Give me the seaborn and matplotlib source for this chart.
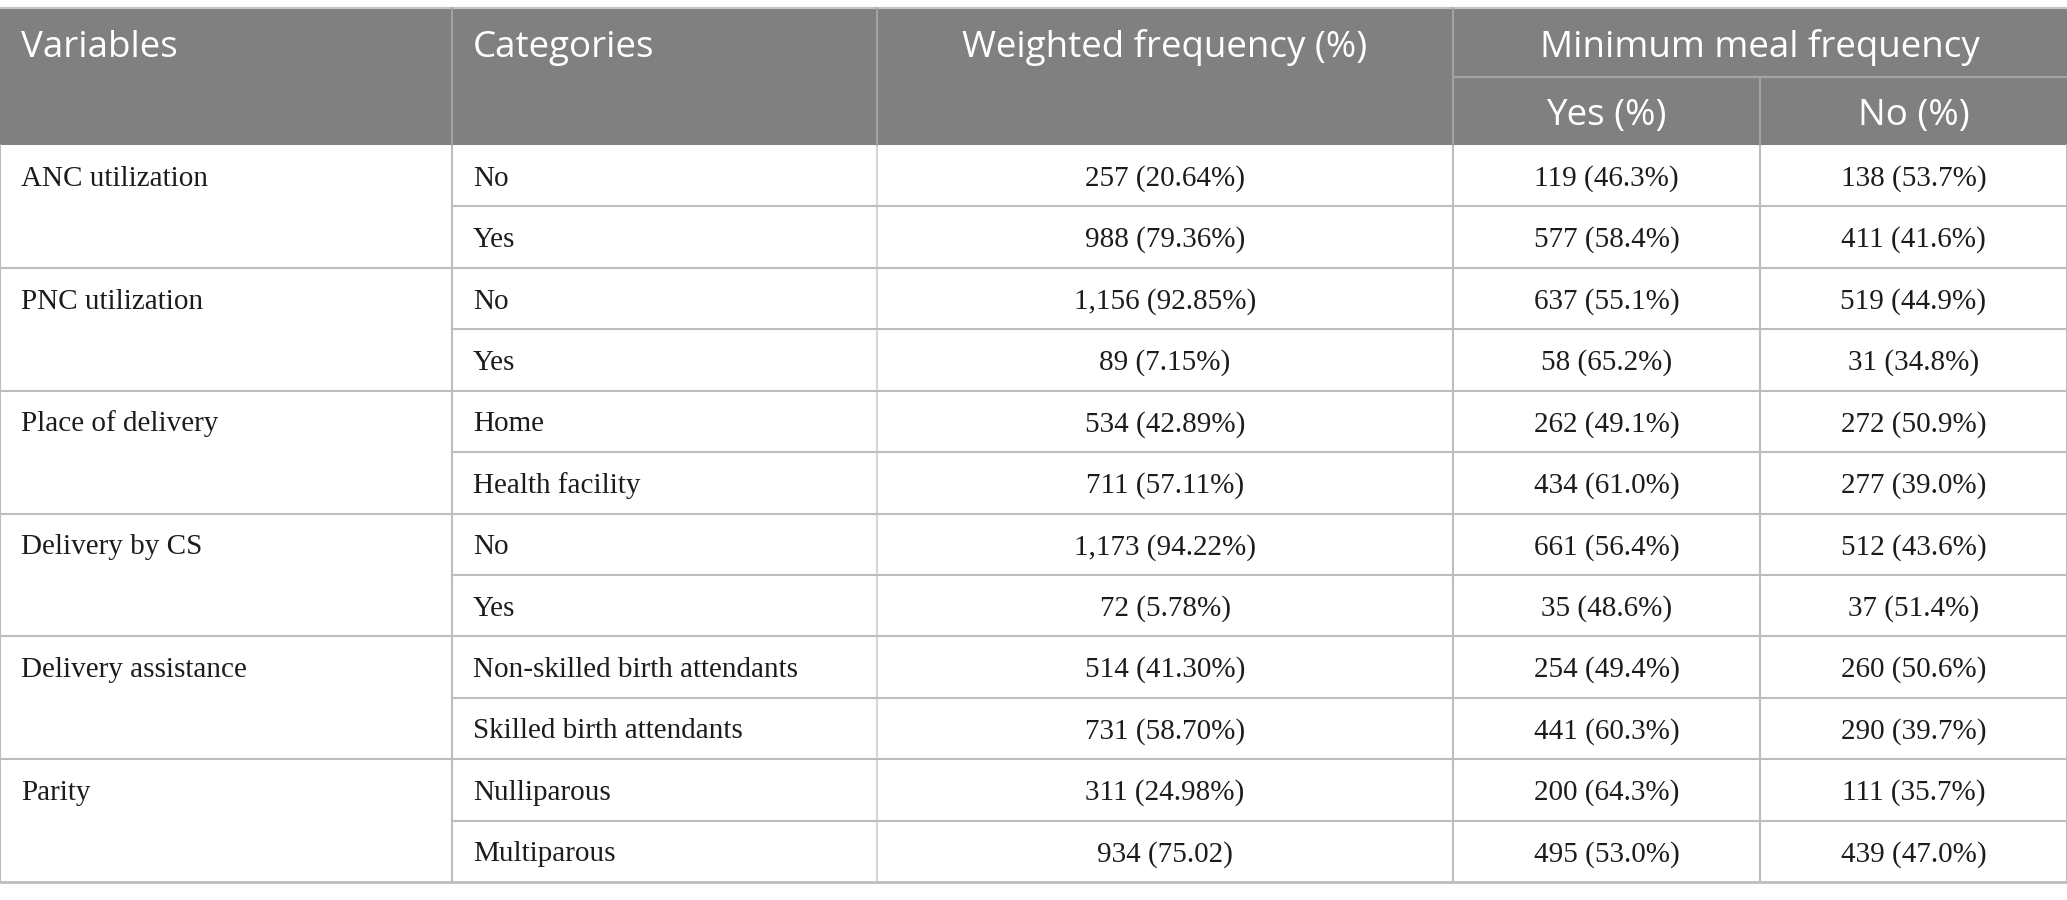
import matplotlib
matplotlib.use("Agg")
import matplotlib.pyplot as plt
import seaborn as sns

# ---------------- data ----------------
header_cols = ["Variables", "Categories", "Weighted frequency (%)"]
header_group = "Minimum meal frequency"
header_sub = ["Yes (%)", "No (%)"]

variables = ["ANC utilization", "PNC utilization", "Place of delivery",
             "Delivery by CS", "Delivery assistance", "Parity"]
categories = [["No", "Yes"], ["No", "Yes"], ["Home", "Health facility"],
              ["No", "Yes"],
              ["Non-skilled birth attendants", "Skilled birth attendants"],
              ["Nulliparous", "Multiparous"]]
weighted = ["257 (20.64%)", "988 (79.36%)", "1,156 (92.85%)", "89 (7.15%)",
            "534 (42.89%)", "711 (57.11%)", "1,173 (94.22%)", "72 (5.78%)",
            "514 (41.30%)", "731 (58.70%)", "311 (24.98%)", "934 (75.02)"]
mmf_yes = ["119 (46.3%)", "577 (58.4%)", "637 (55.1%)", "58 (65.2%)",
           "262 (49.1%)", "434 (61.0%)", "661 (56.4%)", "35 (48.6%)",
           "254 (49.4%)", "441 (60.3%)", "200 (64.3%)", "495 (53.0%)"]
mmf_no = ["138 (53.7%)", "411 (41.6%)", "519 (44.9%)", "31 (34.8%)",
          "272 (50.9%)", "277 (39.0%)", "512 (43.6%)", "37 (51.4%)",
          "260 (50.6%)", "290 (39.7%)", "111 (35.7%)", "439 (47.0%)"]

# ---------------- layout ----------------
W, H = 2067, 900
col_edges = [0, 452, 877, 1453, 1760, 2067]
top, sub_y, head_bot = 8, 77, 145
row_h = (882 - head_bot) / 12.0
pad = 21

HEAD_BG = "#808080"
HEAD_LINE = "#a3a3a3"
BODY_LINE = "#bdbdbd"
TXT = "#1c1c1c"

sns.set_theme(style="white")
plt.rcParams["font.family"] = ["Open Sans", "DejaVu Sans"]

fig = plt.figure(figsize=(W / 100, H / 100), dpi=100)
ax = fig.add_axes([0, 0, 1, 1])
ax.set_xlim(0, W)
ax.set_ylim(H, 0)
ax.axis("off")

# header background
ax.fill_between([0, W], top, head_bot, color=HEAD_BG, lw=0, zorder=0)
ax.plot([0, W], [top, top], color="#c4c4c4", lw=1.6, zorder=2)
ax.plot([col_edges[3], W], [sub_y, sub_y], color=HEAD_LINE, lw=1.6, zorder=2)
for x in col_edges[1:4]:
    ax.plot([x, x], [top, head_bot], color=HEAD_LINE, lw=1.4, zorder=2)
ax.plot([col_edges[4]] * 2, [sub_y, head_bot], color=HEAD_LINE, lw=1.4, zorder=2)

hfs = 26.5
hcol = "white"
hb1, hb2 = 57, 125
ax.text(col_edges[0] + pad, hb1, header_cols[0], color=hcol, fontsize=hfs,
        ha="left", va="baseline")
ax.text(col_edges[1] + pad, hb1, header_cols[1], color=hcol, fontsize=hfs,
        ha="left", va="baseline")
ax.text((col_edges[2] + col_edges[3]) / 2, hb1, header_cols[2], color=hcol,
        fontsize=hfs, ha="center", va="baseline")
ax.text((col_edges[3] + col_edges[5]) / 2, hb1, header_group, color=hcol,
        fontsize=hfs, ha="center", va="baseline")
for i, s in enumerate(header_sub):
    ax.text((col_edges[3 + i] + col_edges[4 + i]) / 2, hb2, s, color=hcol,
            fontsize=hfs, ha="center", va="baseline")

# body grid
serif = ["Liberation Serif", "DejaVu Serif"]
dfs = 21
n_rows = len(weighted)
for r in range(1, n_rows + 1):
    y = head_bot + r * row_h
    x0 = 0 if r % 2 == 0 else col_edges[1]
    lw = 2.0 if r == n_rows else 1.5
    ax.plot([x0, W], [y, y], color=BODY_LINE, lw=lw, zorder=2)
for x in col_edges:
    c = "#d6d6d6" if x == col_edges[2] else BODY_LINE
    ax.plot([x, x], [head_bot, 882], color=c, lw=1.5, zorder=1)

# body text
for g, var in enumerate(variables):
    yc = head_bot + (2 * g + 0.5) * row_h
    ax.text(col_edges[0] + pad, yc + 10, var, color=TXT, fontsize=dfs,
            ha="left", va="baseline", family=serif)
    for k, cat in enumerate(categories[g]):
        yk = head_bot + (2 * g + k + 0.5) * row_h
        ax.text(col_edges[1] + pad, yk + 10, cat, color=TXT, fontsize=dfs,
                ha="left", va="baseline", family=serif)

for r in range(n_rows):
    yk = head_bot + (r + 0.5) * row_h + 10
    for ci, vals in zip([2, 3, 4], [weighted, mmf_yes, mmf_no]):
        ax.text((col_edges[ci] + col_edges[ci + 1]) / 2, yk, vals[r],
                color=TXT, fontsize=dfs, ha="center", va="baseline",
                family=serif)

fig.savefig("out.png", dpi=100, facecolor="white")
